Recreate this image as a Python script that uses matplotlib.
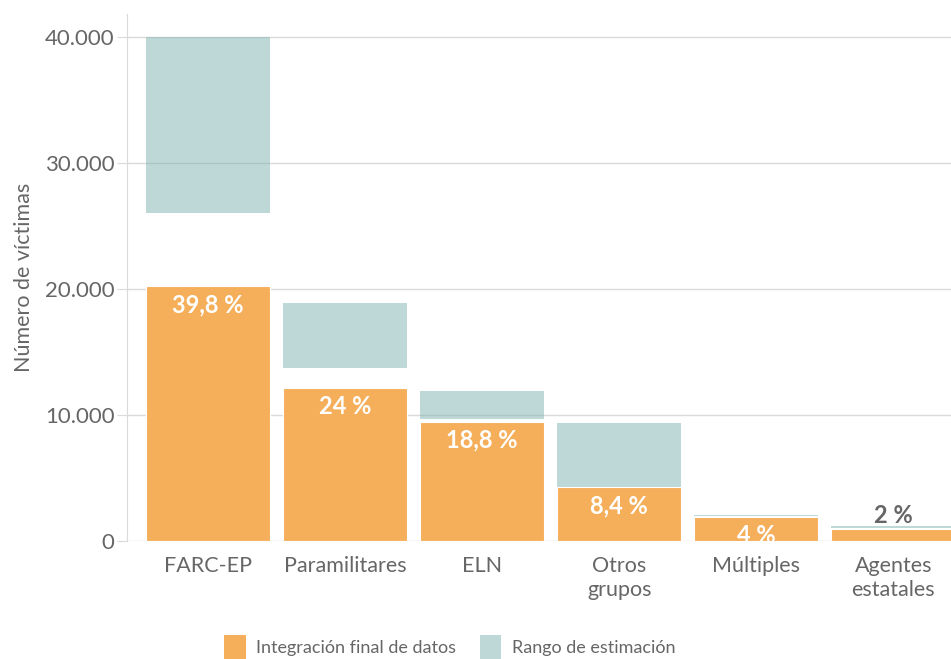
import matplotlib
matplotlib.use("Agg")
import matplotlib.pyplot as plt
from matplotlib.patches import Patch
from matplotlib.ticker import FuncFormatter

plt.rcParams['font.family'] = ['Lato', 'DejaVu Sans']

categories = ["FARC-EP", "Paramilitares", "ELN", "Otros\ngrupos", "Múltiples", "Agentes\nestatales"]
integracion = [20200, 12150, 9450, 4250, 1900, 950]
rango_bajo = [26000, 13700, 9700, 4300, 1950, 1000]
rango_alto = [40000, 18900, 11900, 9370, 2060, 1190]
porcentajes = ["39,8 %", "24 %", "18,8 %", "8,4 %", "4 %", "2 %"]

orange = "#F5AE59"
teal = "#7FB3B3"
gray = "#666666"
grid = "#DADADA"

fig = plt.figure(figsize=(9.51, 6.59), dpi=100)
ax = fig.add_axes([127 / 951, 1 - 541 / 659, 1 - 127 / 951, (541 - 14) / 659])

x = list(range(len(categories)))
w = 0.905
ax.bar(x, integracion, width=w, color=orange, edgecolor="white", linewidth=0.8, zorder=2)
ax.bar(x, [h - l for h, l in zip(rango_alto, rango_bajo)], bottom=rango_bajo, width=w,
       color=teal, alpha=0.5, linewidth=0, zorder=3)

for i, (v, p) in enumerate(zip(integracion, porcentajes)):
    if v > 1500:
        ax.text(i, v - 1450, p, ha="center", va="center", color="white",
                fontsize=17, fontweight="bold", zorder=4)
    else:
        ax.text(i, rango_alto[i] + 850, p, ha="center", va="center", color=gray,
                fontsize=17, fontweight="bold", zorder=4)

ax.set_xlim(-0.59, 5.42)
ax.set_ylim(0, 41800)
ax.set_yticks([0, 10000, 20000, 30000, 40000])
ax.yaxis.set_major_formatter(FuncFormatter(lambda v, _: f"{int(v):,}".replace(",", ".")))
ax.yaxis.grid(True, color=grid, linewidth=1, zorder=0)
ax.set_axisbelow(True)
ax.set_xticks(x)
ax.set_xticklabels(categories, fontsize=15.5, color=gray, linespacing=1.25)
ax.tick_params(axis="x", length=0, pad=11)
ax.tick_params(axis="y", length=7, color=grid, labelsize=16, labelcolor=gray, pad=2)
for s in ["top", "right", "bottom"]:
    ax.spines[s].set_visible(False)
ax.spines["left"].set_color(grid)
ax.set_ylabel("Número de víctimas", fontsize=15.5, color=gray, labelpad=8)

handles = [Patch(facecolor=orange, edgecolor="none"),
           Patch(facecolor=teal, alpha=0.5, edgecolor="none")]
fig.legend(handles, ["Integración final de datos", "Rango de estimación"],
           loc="center", bbox_to_anchor=(0.473, 0.018), ncol=2, frameon=False,
           fontsize=13, labelcolor=gray, handlelength=1.2, handleheight=1.7,
           columnspacing=1.3, handletextpad=0.6)

fig.savefig("out.png", dpi=100)
